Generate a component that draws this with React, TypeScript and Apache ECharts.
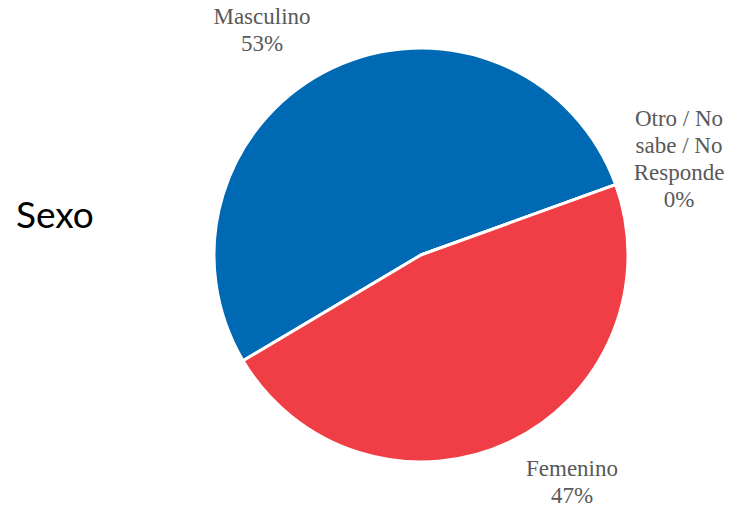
import React, { useEffect, useRef } from "react";
import * as echarts from "echarts";

const categories = ["Masculino", "Otro / No\nsabe / No\nResponde", "Femenino"];
const values = [53, 0, 47];
const colors = ["#0069B4", "#FFFFFF", "#EF3E46"];

const labelPos: Record<number, [number, number]> = {
  0: [262, 30],
  1: [679, 159],
  2: [572, 482],
};

export default function App() {
  const ref = useRef<HTMLDivElement>(null);
  useEffect(() => {
    const chart = echarts.init(ref.current!, null, { renderer: "svg" });
    chart.setOption({
      animation: false,
      backgroundColor: "#ffffff",
      textStyle: { fontFamily: "Liberation Serif, Times New Roman, serif" },
      graphic: [
        {
          type: "text",
          left: 16,
          top: 195,
          style: {
            text: "Sexo",
            fontFamily: "Lato",
            fontSize: 37,
            fill: "#000000",
          },
        },
      ],
      series: [
        {
          type: "pie",
          center: [421, 255],
          radius: 207,
          startAngle: 210.7,
          clockwise: true,
          avoidLabelOverlap: false,
          stillShowZeroSum: true,
          minShowLabelAngle: 0,
          data: categories.map((c, i) => ({
            name: c,
            value: values[i],
            itemStyle: { color: colors[i] },
          })),
          itemStyle: { borderColor: "#ffffff", borderWidth: 3 },
          label: {
            show: true,
            position: "outside",
            formatter: "{b}\n{d}%",
            fontFamily: "Liberation Serif, Times New Roman, serif",
            fontSize: 23,
            lineHeight: 27,
            color: "#595959",
            align: "center",
          },
          labelLine: { show: false },
          labelLayout: (params: any) => {
            const p = labelPos[params.dataIndex];
            return { x: p[0], y: p[1], align: "center", verticalAlign: "middle" };
          },
        },
      ],
    });
    return () => chart.dispose();
  }, []);
  return (
    <div
      ref={ref}
      style={{ position: "fixed", left: 0, top: 0, width: 735, height: 509 }}
    />
  );
}
